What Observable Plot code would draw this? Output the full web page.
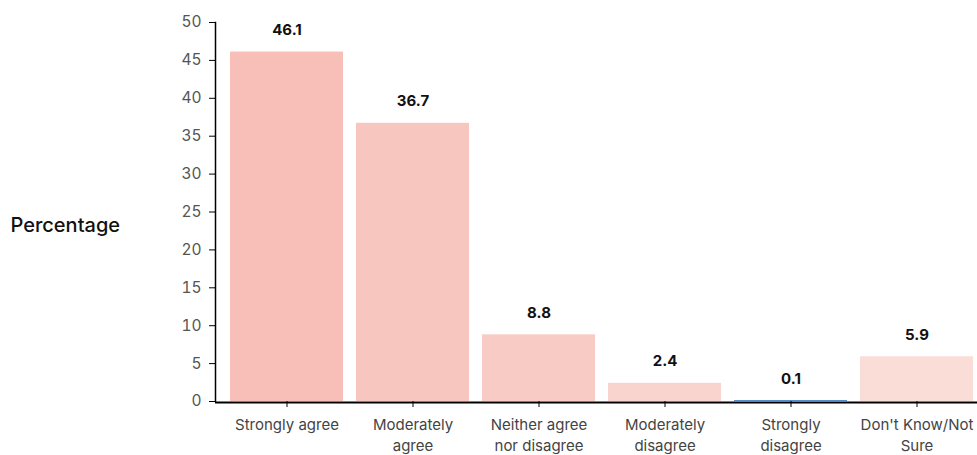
<!DOCTYPE html>
<html>
<head>
<meta charset="utf-8">
<script src="https://cdn.jsdelivr.net/npm/d3@7"></script>
<script src="https://cdn.jsdelivr.net/npm/@observablehq/plot@0.6"></script>
<style>
  html, body { margin: 0; padding: 0; background: #fff; }
  #chart { width: 977px; height: 455px; }
</style>
</head>
<body>
<div id="chart"></div>
<script>
const categories = ["Strongly agree", "Moderately agree", "Neither agree nor disagree", "Moderately disagree", "Strongly disagree", "Don't Know/Not Sure"];
const tickLabels = ["Strongly agree", "Moderately\nagree", "Neither agree\nnor disagree", "Moderately\ndisagree", "Strongly\ndisagree", "Don't Know/Not\nSure"];
const values = [46.1, 36.7, 8.8, 2.4, 0.1, 5.9];
const barColors = ["#f8bfb8", "#f7c6bf", "#f8ccc5", "#f9d3cd", "#1f66b8", "#fbddd8"];
const yTicks = [0, 5, 10, 15, 20, 25, 30, 35, 40, 45, 50];

const data = categories.map((c, i) => ({category: c, value: values[i], color: barColors[i], label: values[i].toFixed(1)}));
const labelMap = new Map(categories.map((c, i) => [c, tickLabels[i]]));

const chart = Plot.plot({
  width: 977,
  height: 455,
  marginLeft: 215,
  marginRight: 0,
  marginTop: 22,
  marginBottom: 54,
  style: {fontFamily: "Inter, 'Noto Sans', sans-serif", fontSize: "15px", background: "#fff"},
  x: {domain: categories, paddingInner: 0.1, paddingOuter: 0.064, align: 0.81},
  y: {domain: [0, 50]},
  marks: [
    Plot.ruleY([0], {stroke: "#000", strokeWidth: 2, dy: 1}),
    Plot.barY(data, {x: "category", y: "value", fill: "color"}),
    Plot.text(data, {x: "category", y: "value", text: "label", dy: -22, fontWeight: "bold", fontSize: 15, fill: "#111"}),
    Plot.axisY({ticks: yTicks, tickSize: 6, tickPadding: 8, label: null, stroke: "#000", fill: "#555", fontSize: 15.5}),
    Plot.axisX({tickSize: 6, tickPadding: 8, label: null, tickFormat: d => labelMap.get(d), stroke: "#000", fill: "#444", fontSize: 15, lineHeight: 1.4}),
    Plot.frame({anchor: "left", stroke: "#000", strokeWidth: 1.5}),
    Plot.text(["Percentage"], {frameAnchor: "left", dx: -205, dy: 14, textAnchor: "start", fontSize: 20, fontWeight: 500, fill: "#111"})
  ]
});
document.getElementById("chart").appendChild(chart);
</script>
</body>
</html>
